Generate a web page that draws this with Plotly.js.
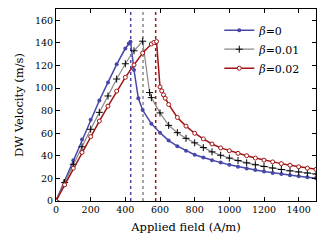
<!DOCTYPE html>
<html>
<head>
<meta charset="utf-8">
<script src="https://cdn.plot.ly/plotly-3.0.1.min.js"></script>
<style>html,body{margin:0;padding:0;background:#fff;}#chart{width:333px;height:240px;}</style>
</head>
<body>
<div id="chart"></div>
<script>
// beta = 0
const fieldB0 = [0,50,100,150,200,250,300,350,400,420,430,450,475,500,550,600,650,700,750,800,850,900,950,1000,1050,1100,1150,1200,1250,1300,1350,1400,1450,1500];
const velB0   = [0,17.8,36,54.5,72,89,105,121,135,139.5,141,116,91,80.5,68.5,60.5,53.5,48.5,44.5,41,38.5,36,34,32,30.3,28.8,27.4,26.1,24.9,23.8,22.8,21.9,21,20.2];
// beta = 0.01
const fieldB1 = [0,50,100,150,200,250,300,350,400,450,500,540,550,600,650,700,750,800,850,900,950,1000,1050,1100,1150,1200,1250,1300,1350,1400,1450,1500];
const velB1   = [0,16.3,32.5,48,63.5,78.5,93,108,121.5,133,141.5,96,91.5,78,67,60.5,55.5,51.5,47.3,43.5,40.5,38,35.8,33.8,32.1,30.6,29.2,27.9,26.7,25.7,24.8,23.9];
// beta = 0.02
const fieldB2 = [0,50,100,150,200,250,300,350,400,450,500,550,565,580,600,610,620,630,650,700,750,800,850,900,950,1000,1050,1100,1150,1200,1250,1300,1350,1400,1450,1500];
const velB2   = [0,14.3,29,43,57,70.8,84,97.3,109.5,120.5,131,139,140.4,141.2,101,97.5,94,91,85.5,74,66.3,60,55,50.5,47,44.5,42.2,40.1,38,36.2,34.6,33.1,31.7,30.3,29.1,28];
// Walker breakdown fields (dotted lines)
const walkerFields = [431, 502, 575];
const seriesNames = ['<i>β</i>=0', '<i>β</i>=0.01', '<i>β</i>=0.02'];
const xTicks = [0,200,400,600,800,1000,1200,1400];
const yTicks = [0,20,40,60,80,100,120,140,160];

const cBlue = '#4848a8', cGray = '#888888', cRed = '#a01414';
const font = 'DejaVu Serif, serif';

const traces = [
  {x: fieldB0, y: velB0, name: seriesNames[0], mode: 'lines+markers',
   line: {color: cBlue, width: 1.5}, marker: {color: cBlue, size: 4, symbol: 'circle'}},
  {x: fieldB1, y: velB1, name: seriesNames[1], mode: 'lines+markers',
   line: {color: cGray, width: 1.2}, marker: {color: '#000', size: 5, symbol: 'cross-thin-open', line: {color: '#000', width: 1}}},
  {x: fieldB2, y: velB2, name: seriesNames[2], mode: 'lines+markers',
   line: {color: cRed, width: 1.5}, marker: {color: '#fff', size: 4, symbol: 'circle', line: {color: cRed, width: 1}}}
];

const dotColors = [cBlue, cGray, cRed];
const shapes = walkerFields.map((h, i) => ({
  type: 'line', xref: 'x', yref: 'paper', x0: h, x1: h, y0: 0, y1: 1,
  line: {color: dotColors[i], width: 1.5, dash: 'dot'}, layer: 'below'
}));

const axisCommon = {
  showgrid: false, zeroline: false, showline: true, linecolor: '#000', linewidth: 1,
  mirror: 'ticks', ticks: 'inside', ticklen: 4, tickcolor: '#000', tickwidth: 1,
  tickfont: {family: font, size: 9.5, color: '#000'}
};

const layout = {
  width: 333, height: 240,
  margin: {l: 56, r: 17, t: 9, b: 39},
  paper_bgcolor: '#fff', plot_bgcolor: '#fff',
  showlegend: true,
  legend: {x: 0.628, y: 0.965, xanchor: 'left', yanchor: 'top', bgcolor: 'rgba(0,0,0,0)',
           font: {family: font, size: 11, color: '#000'}},
  xaxis: Object.assign({}, axisCommon, {range: [0, 1500], tickvals: xTicks,
    title: {text: 'Applied field (A/m)', font: {family: font, size: 11.5, color: '#000'}, standoff: 8}}),
  yaxis: Object.assign({}, axisCommon, {range: [0, 170], tickvals: yTicks,
    title: {text: 'DW Velocity (m/s)', font: {family: font, size: 11.5, color: '#000'}, standoff: 8}}),
  shapes: shapes
};

Plotly.newPlot('chart', traces, layout, {displayModeBar: false, staticPlot: true});
</script>
</body>
</html>
